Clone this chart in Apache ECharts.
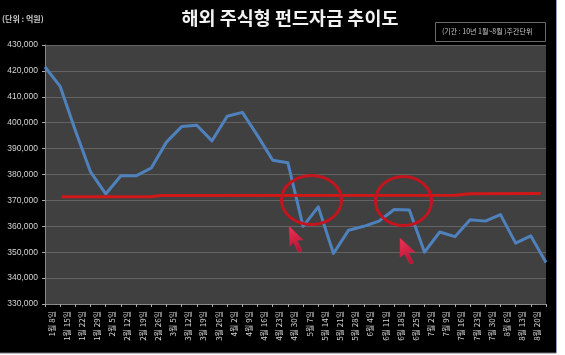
<!DOCTYPE html>
<html><head><meta charset="utf-8">
<style>html,body{margin:0;padding:0;background:#fff}#c{width:565px;height:355px}</style>
<script src="https://cdn.jsdelivr.net/npm/echarts@6/dist/echarts.min.js"></script>
</head><body><div id="c"></div>
<script>
const categories = ['1월 8일','1월 15일','1월 22일','1월 29일','2월 5일','2월 12일','2월 19일','2월 26일','3월 5일','3월 12일','3월 19일','3월 26일','4월 2일','4월 9일','4월 16일','4월 23일','4월 30일','5월 7일','5월 14일','5월 21일','5월 28일','6월 4일','6월 11일','6월 18일','6월 25일','7월 2일','7월 9일','7월 16일','7월 23일','7월 30일','8월 6일','8월 13일','8월 20일',''];
const funds = [421.5,414,397,381,372.5,379.5,379.5,382.5,392.5,398.5,399,393,402.5,404,395,385.5,384.5,360,367.5,349.5,358.5,360,362,366.5,366.3,350,357.8,356,362.5,362,364.5,353.5,356.3,346].map(v=>v*1000);
const avgX = [1.1,7,7.6,27,28,32.65];
const avgY = [371400,371400,371900,372000,372600,372700];
const KR = '"Noto Sans CJK KR","Noto Sans",sans-serif';
const chart = echarts.init(document.getElementById('c'), null, {renderer:'canvas'});
const cursor = (pts) => ({type:'polygon', z:20, shape:{points:pts}, style:{
  fill:new echarts.graphic.LinearGradient(0,0,1,1,[{offset:0,color:'#ee3355'},{offset:1,color:'#b01030'}]),
  stroke:'#d8204a', lineWidth:0.5}});
chart.setOption({
  animation:false,
  backgroundColor:'#ffffff',
  textStyle:{fontFamily:KR},
  title:{text:'해외 주식형 펀드자금 추이도', left:285, top:4, textAlign:'center',
    textStyle:{color:'#f2f2f2', fontSize:18.5, fontWeight:'bold', fontFamily:KR}},
  grid:{left:45, right:19, top:45, bottom:51, show:true, backgroundColor:'#404040', borderWidth:0},
  xAxis:[{type:'category', data:categories, boundaryGap:false,
      axisLine:{lineStyle:{color:'#8a8a8a'}},
      axisTick:{show:true, alignWithLabel:true, length:3, lineStyle:{color:'#aaaaaa'}},
      axisLabel:{interval:0, rotate:90, margin:7, fontSize:8, lineHeight:13, color:'#d4d4d4', align:'right', verticalAlign:'top', hideOverlap:false, showMaxLabel:true, showMinLabel:true},
      splitLine:{show:false}},
    {type:'value', min:0, max:33, show:false}],
  yAxis:{type:'value', min:330000, max:430000, interval:10000,
    axisLine:{show:true, lineStyle:{color:'#8a8a8a'}},
    axisTick:{show:true, length:3, lineStyle:{color:'#aaaaaa'}},
    axisLabel:{margin:7, fontSize:8.5, color:'#d4d4d4', fontFamily:'"Liberation Sans",sans-serif',
      formatter:v=>v.toLocaleString('en-US')},
    splitLine:{show:true, lineStyle:{color:'#636363', width:1}}},
  series:[
    {name:'펀드자금', type:'line', data:funds, showSymbol:false, symbol:'none', z:3, clip:false,
     lineStyle:{color:'#4f81bd', width:3, join:'round'}},
    {name:'평균', type:'line', xAxisIndex:1, data:avgX.map((x,i)=>[x,avgY[i]]), showSymbol:false, symbol:'none', z:4,
     lineStyle:{color:'#d01818', width:3}}
  ],
  graphic:[
    {type:'rect', z:-10, silent:true, shape:{x:0,y:0,width:556,height:353}, style:{fill:'#000000'}},
    {type:'line', z:-9, shape:{x1:556.5,y1:0,x2:556.5,y2:353}, style:{stroke:'#8f9bb8', lineWidth:1}},
    {type:'line', z:-9, shape:{x1:0,y1:353,x2:556,y2:353}, style:{stroke:'#77777f', lineWidth:1}},
    {type:'text', z:10, style:{x:2, y:15, text:'(단위 : 억원)', fill:'#c8c8c8', font:'bold 8px '+KR}},
    {type:'rect', z:10, shape:{x:435.5,y:22.5,width:110,height:19}, style:{fill:'#000000', stroke:'#6a6a6a', lineWidth:1}},
    {type:'text', z:11, style:{x:442, y:28, text:'(기간 : 10년 1월~8월 )주간단위', fill:'#c8c8c8', font:'7px '+KR}},
    {type:'ellipse', z:15, shape:{cx:311.5,cy:200,rx:30,ry:24.5}, style:{fill:'none', stroke:'#c4141e', lineWidth:3}},
    {type:'ellipse', z:15, shape:{cx:403.5,cy:201,rx:28,ry:24.5}, style:{fill:'none', stroke:'#c4141e', lineWidth:3}},
    cursor([[289,226],[303,240],[297,240],[302,251],[298,252],[293.5,242],[290,246]]),
    cursor([[400,238],[415,252],[408,252],[413.5,263],[410,264],[404.5,254],[400,257]])
  ]
});
</script></body></html>
